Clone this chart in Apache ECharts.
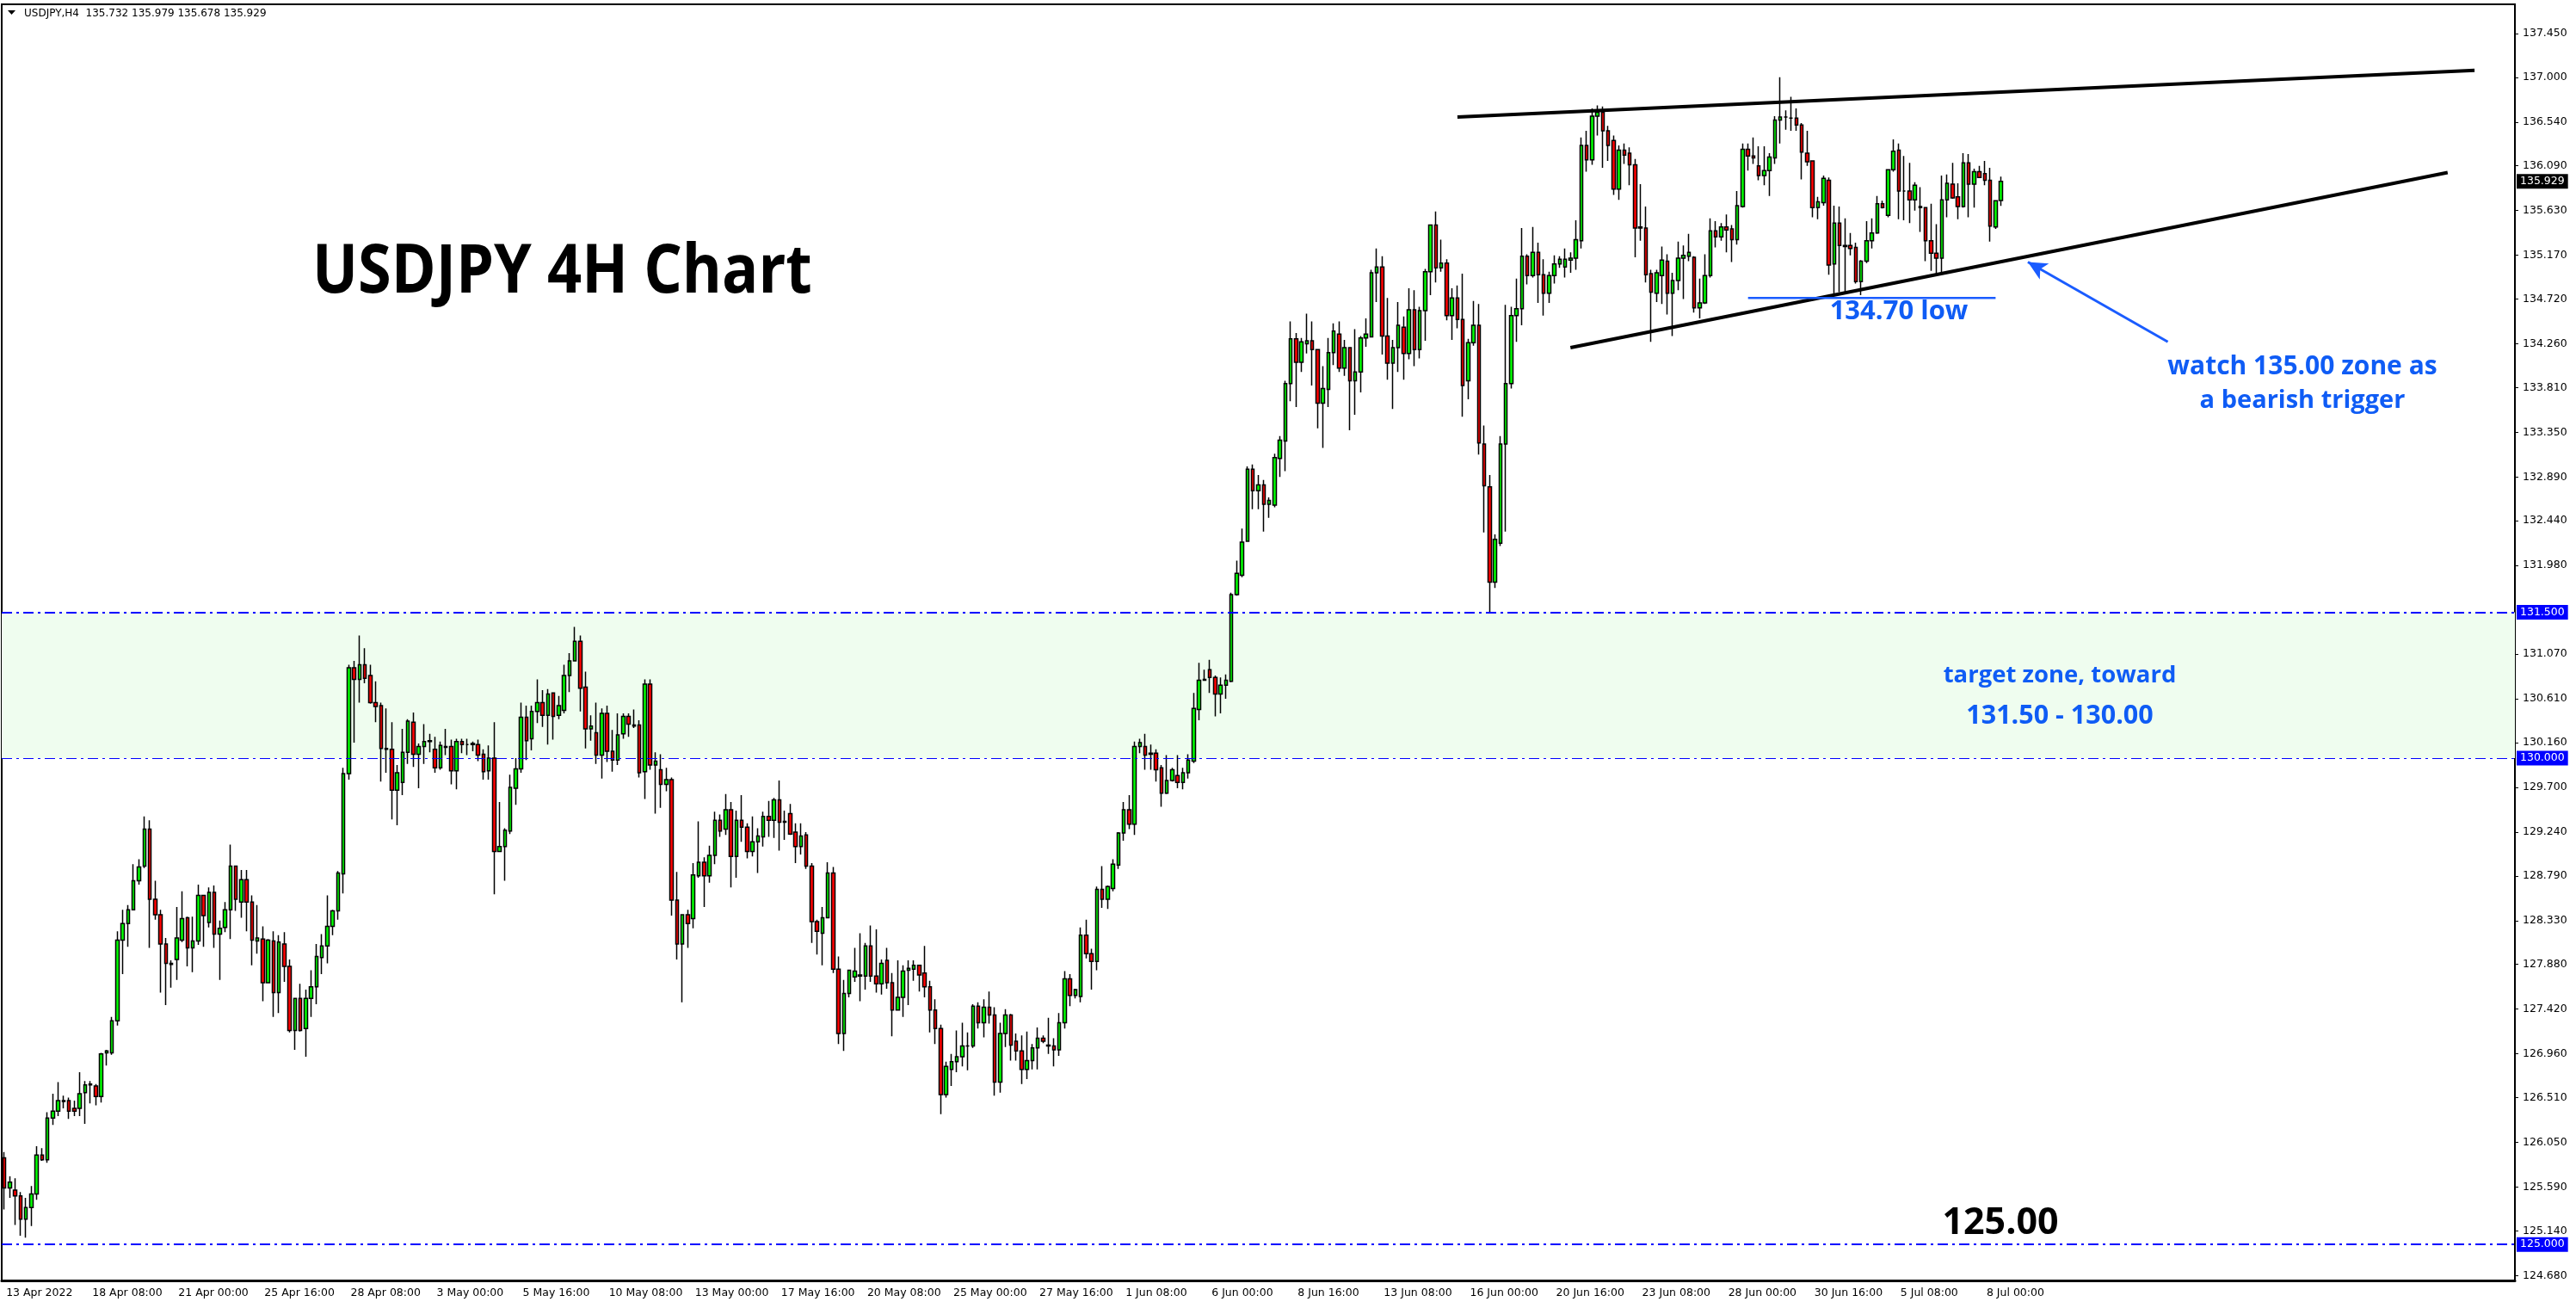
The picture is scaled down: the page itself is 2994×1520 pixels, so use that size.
<!DOCTYPE html>
<html><head><meta charset="utf-8">
<script src="https://cdn.jsdelivr.net/npm/echarts@6/dist/echarts.min.js"></script>
<style>html,body{margin:0;padding:0;background:#fff}#c{width:2994px;height:1520px}</style>
</head><body><div id="c"></div>
<script>
// ---------------- data ----------------
const symbolName = 'USDJPY,H4';
const lastBar = [135.732, 135.979, 135.678, 135.929]; // O H L C of the last bar
const firstBarUTC = [2022, 3, 13, 16];                 // 13 Apr 2022 16:00
const totalSlots = 467;                                 // bars + empty chart shift area
const labelEvery = 16;
const yMin = 124.63, yMax = 137.75;
const tickLabels = ['124.680','125.140','125.590','126.050','126.510','126.960','127.420','127.880','128.330','128.790','129.240','129.700','130.160','130.610','131.070','131.980','132.440','132.890','133.350','133.810','134.260','134.720','135.170','135.630','136.090','136.540','137.000','137.450'];
const levelLines = [131.5, 130.0, 125.0];
const targetZone = [130.0, 131.5];
const upperTrend = [[270, 136.59], [459, 137.07]];
const lowerTrend = [[291, 134.22], [454, 136.02]];
const lowLine = [[324, 134.73], [370, 134.73]];
const arrowFromTo = [[402, 134.28], [376, 135.10]];
// candles: [open, high, low, close]
const candles = [
[125.89,125.95,125.36,125.58],[125.58,125.70,125.48,125.64],[125.56,125.68,125.20,125.50],[125.50,125.54,125.09,125.26],
[125.26,125.48,125.07,125.38],[125.38,125.60,125.19,125.52],[125.52,126.01,125.46,125.92],[125.92,125.99,125.86,125.87],
[125.87,126.36,125.84,126.30],[126.30,126.55,126.23,126.37],[126.37,126.67,126.32,126.48],[126.48,126.53,126.40,126.47],
[126.48,126.51,126.29,126.37],[126.40,126.48,126.32,126.37],[126.40,126.77,126.32,126.55],[126.56,126.68,126.24,126.64],
[126.64,126.68,126.45,126.65],[126.63,126.65,126.43,126.52],[126.52,126.97,126.46,126.96],[126.97,127.00,126.84,126.99],
[126.97,127.34,126.95,127.30],[127.30,128.22,127.25,128.13],[128.13,128.44,127.78,128.30],[128.30,128.49,128.06,128.44],
[128.44,128.91,128.44,128.74],[128.74,128.96,128.70,128.88],[128.89,129.40,128.87,129.27],[129.27,129.36,128.05,128.55],
[128.55,128.74,128.34,128.39],[128.39,128.44,127.59,128.09],[128.09,128.15,127.46,127.89],[127.89,127.92,127.64,127.88],
[127.93,128.47,127.72,128.15],[128.13,128.63,128.11,128.35],[128.36,128.37,127.86,128.05],[128.05,128.37,127.80,128.12],
[128.12,128.70,128.08,128.59],[128.59,128.59,128.06,128.38],[128.31,128.67,128.26,128.62],[128.62,128.69,128.05,128.19],
[128.19,128.33,127.72,128.25],[128.26,128.52,128.21,128.44],[128.44,129.11,128.14,128.89],[128.89,128.89,128.43,128.55],
[128.52,128.85,128.36,128.75],[128.75,128.85,128.22,128.52],[128.52,128.59,127.87,128.13],[128.12,128.49,127.99,128.15],
[128.14,128.27,127.50,127.69],[127.69,128.14,127.69,128.13],[128.12,128.22,127.34,127.59],[127.59,128.18,127.38,128.11],
[128.09,128.21,127.70,127.86],[127.86,127.93,127.18,127.20],[127.20,127.53,127.00,127.53],[127.53,127.68,127.19,127.20],
[127.22,127.62,126.93,127.53],[127.53,127.82,127.34,127.65],[127.65,128.09,127.47,127.96],[127.95,128.19,127.78,128.07],
[128.07,128.59,127.89,128.27],[128.27,128.44,128.18,128.43],[128.43,128.84,128.34,128.82],[128.81,129.90,128.61,129.84],
[129.84,130.96,129.78,130.93],[130.93,131.00,130.16,130.81],[130.81,131.26,130.57,130.96],[130.96,131.13,130.77,130.82],
[130.85,130.96,130.56,130.57],[130.57,130.79,130.37,130.53],[130.54,130.57,129.76,130.10],[130.10,130.51,129.85,130.09],
[130.09,130.37,129.37,129.67],[129.67,129.93,129.31,129.85],[129.75,130.30,129.62,130.06],[130.06,130.40,129.94,130.38],
[130.37,130.47,129.91,130.04],[130.04,130.15,129.69,130.12],[130.12,130.35,129.94,130.17],[130.17,130.25,130.06,130.18],
[130.09,130.22,129.85,129.90],[129.90,130.17,129.88,130.13],[130.11,130.30,130.03,130.12],[130.12,130.19,129.73,129.87],
[129.87,130.20,129.68,130.17],[130.17,130.20,130.05,130.14],[130.14,130.20,130.03,130.14],[130.14,130.17,130.07,130.15],
[130.14,130.19,129.97,130.03],[130.04,130.09,129.78,129.86],[129.87,130.13,129.78,130.00],[130.00,130.37,128.60,129.04],
[129.04,129.55,129.04,129.09],[129.09,129.28,128.74,129.26],[129.25,129.83,129.22,129.70],[129.69,130.00,129.52,129.89],
[129.89,130.57,129.85,130.42],[130.42,130.54,129.98,130.18],[130.20,130.54,130.08,130.48],[130.48,130.81,130.36,130.57],
[130.57,130.70,130.32,130.44],[130.44,130.71,130.14,130.66],[130.67,130.67,130.19,130.43],[130.44,130.64,130.40,130.54],
[130.49,130.96,130.46,130.85],[130.85,131.08,130.68,131.00],[131.00,131.35,131.00,131.20],[131.20,131.26,130.48,130.72],
[130.73,130.89,130.10,130.30],[130.30,130.44,130.18,130.33],[130.26,130.57,129.94,130.03],[130.03,130.51,129.79,130.46],
[130.46,130.54,129.96,130.07],[130.07,130.29,129.86,129.98],[129.98,130.46,129.93,130.24],[130.25,130.46,130.20,130.43],
[130.43,130.46,130.22,130.35],[130.34,130.50,130.31,130.33],[130.34,130.39,129.80,129.85],[129.86,130.81,129.58,130.76],
[130.76,130.81,129.88,129.93],[129.93,130.06,129.43,129.97],[129.88,130.04,129.49,129.73],[129.73,129.90,129.66,129.78],
[129.78,129.80,128.38,128.54],[128.54,128.83,127.93,128.09],[128.09,128.39,127.49,128.39],[128.39,128.44,128.05,128.30],
[128.35,128.92,128.25,128.80],[128.79,129.35,128.77,128.93],[128.93,128.98,128.47,128.79],[128.79,129.10,128.72,129.00],
[129.00,129.45,128.91,129.36],[129.36,129.42,129.19,129.25],[129.27,129.63,129.21,129.47],[129.47,129.55,128.67,128.99],
[128.99,129.46,128.77,129.36],[129.36,129.62,129.14,129.29],[129.29,129.33,128.97,129.04],[129.04,129.40,128.99,129.14],
[129.14,129.28,128.82,129.20],[129.19,129.45,129.09,129.40],[129.40,129.56,129.19,129.36],[129.36,129.59,129.18,129.57],
[129.57,129.77,129.05,129.34],[129.34,129.46,129.16,129.35],[129.43,129.53,129.21,129.22],[129.24,129.33,128.92,129.09],
[129.09,129.33,129.01,129.20],[129.21,129.24,128.86,128.89],[128.89,128.92,128.10,128.32],[128.32,128.34,127.98,128.22],
[128.20,128.47,127.87,128.36],[128.36,128.93,128.36,128.82],[128.82,128.88,127.79,127.83],[127.83,127.96,127.06,127.17],
[127.17,127.72,126.99,127.58],[127.58,127.82,127.54,127.82],[127.75,128.05,127.70,127.81],[127.76,128.20,127.50,127.77],
[127.76,128.10,127.62,128.07],[128.07,128.28,127.70,127.76],[127.76,128.24,127.59,127.68],[127.68,127.93,127.57,127.89],
[127.92,128.05,127.63,127.69],[127.69,127.79,127.14,127.41],[127.41,127.92,127.41,127.54],[127.54,127.87,127.34,127.81],
[127.82,127.92,127.46,127.84],[127.83,127.92,127.71,127.87],[127.87,127.87,127.60,127.77],[127.79,128.07,127.54,127.65],
[127.65,127.71,127.18,127.41],[127.41,127.52,127.06,127.22],[127.22,127.26,126.34,126.54],[126.54,126.88,126.51,126.83],
[126.80,126.96,126.63,126.88],[126.88,127.20,126.77,126.93],[126.93,127.28,126.83,127.04],[127.04,127.18,126.79,127.04],
[127.04,127.47,127.02,127.45],[127.45,127.49,127.22,127.28],[127.28,127.52,127.13,127.44],[127.44,127.60,127.27,127.36],
[127.36,127.44,126.53,126.67],[126.67,127.28,126.56,127.17],[127.17,127.42,127.03,127.36],[127.36,127.37,126.89,127.05],
[127.09,127.17,126.89,126.99],[126.99,127.15,126.65,126.80],[126.80,127.19,126.70,126.89],[126.89,127.06,126.80,127.02],
[127.02,127.23,126.80,127.12],[127.12,127.15,127.07,127.09],[127.05,127.33,126.96,127.04],[127.04,127.12,126.83,127.00],
[127.00,127.38,126.94,127.28],[127.28,127.81,127.22,127.73],[127.73,127.78,127.45,127.56],[127.56,127.63,127.53,127.62],
[127.55,128.26,127.49,128.18],[128.18,128.34,127.94,127.99],[127.99,128.04,127.62,127.91],[127.91,128.68,127.82,128.65],
[128.65,128.89,128.46,128.55],[128.55,128.69,128.45,128.68],[128.66,128.96,128.63,128.91],[128.90,129.24,128.86,129.23],
[129.23,129.55,129.15,129.47],[129.47,129.62,129.27,129.32],[129.32,130.17,129.21,130.12],[130.12,130.20,130.05,130.16],
[130.12,130.25,129.88,130.03],[130.04,130.14,129.88,130.05],[130.05,130.09,129.76,129.88],[129.90,129.93,129.50,129.64],
[129.64,130.03,129.63,129.77],[129.77,129.90,129.76,129.88],[129.82,130.03,129.69,129.75],[129.75,129.90,129.68,129.85],
[129.85,130.04,129.79,129.98],[129.97,130.67,129.95,130.51],[130.50,130.98,130.39,130.80],[130.80,130.91,130.80,130.81],
[130.91,131.01,130.67,130.83],[130.83,130.85,130.43,130.66],[130.66,130.83,130.46,130.75],[130.75,130.86,130.61,130.80],
[130.79,131.70,130.78,131.68],[131.68,132.03,131.67,131.90],[131.88,132.36,131.86,132.22],[132.23,133.00,132.23,132.97],
[132.97,133.02,132.56,132.75],[132.75,132.91,132.56,132.81],[132.81,132.86,132.33,132.61],[132.61,132.68,132.47,132.65],
[132.60,133.13,132.58,133.09],[133.08,133.31,132.89,133.27],[133.26,133.88,132.95,133.85],[133.85,134.49,133.67,134.31],
[134.31,134.37,133.61,134.07],[134.07,134.32,133.97,134.28],[134.26,134.57,134.16,134.29],[134.29,134.49,133.83,134.20],
[134.20,134.20,133.39,133.65],[133.65,134.03,133.19,133.80],[133.79,134.32,133.61,134.17],[134.17,134.47,134.04,134.39],
[134.36,134.49,133.97,134.01],[134.01,134.30,133.93,134.22],[134.22,134.22,133.37,133.88],[133.88,134.41,133.53,133.97],
[133.97,134.34,133.76,134.32],[134.32,134.52,134.23,134.36],[134.33,135.02,134.33,134.99],[134.99,135.24,134.69,135.05],
[135.05,135.16,134.15,134.34],[134.34,134.73,133.89,134.06],[134.06,134.30,133.59,134.22],[134.22,134.69,133.97,134.45],
[134.43,134.54,133.89,134.16],[134.16,134.83,134.10,134.61],[134.61,134.81,134.03,134.20],[134.20,134.64,134.11,134.60],
[134.60,135.03,134.29,135.00],[135.00,135.48,134.76,135.48],[135.48,135.62,134.89,135.04],[135.04,135.33,135.00,135.09],
[135.09,135.13,134.50,134.55],[134.55,134.83,134.30,134.73],[134.73,134.86,134.42,134.51],[134.51,134.98,133.51,133.83],
[133.88,134.31,133.69,134.27],[134.27,134.70,134.24,134.45],[134.45,134.67,133.12,133.24],[133.23,133.42,132.32,132.80],
[132.79,132.91,131.50,131.81],[131.81,132.30,131.75,132.25],[132.21,133.31,132.18,133.23],[133.23,134.66,132.33,133.85],
[133.85,134.64,133.80,134.55],[134.55,134.93,134.28,134.62],[134.62,135.45,134.45,135.16],[135.16,135.18,134.87,134.96],
[134.96,135.46,134.94,135.20],[135.20,135.30,134.68,134.97],[134.97,135.13,134.55,134.78],[134.78,135.00,134.68,134.96],
[134.96,135.17,134.88,135.08],[135.08,135.16,135.04,135.13],[135.05,135.24,134.94,135.13],[135.12,135.20,134.99,135.14],
[135.14,135.53,135.02,135.33],[135.32,136.38,135.24,136.30],[136.30,136.45,136.03,136.15],[136.15,136.68,136.10,136.60],
[136.60,136.71,136.40,136.64],[136.64,136.70,136.07,136.45],[136.45,136.50,136.14,136.30],[136.35,136.40,135.79,135.85],
[135.85,136.30,135.74,136.25],[136.25,136.32,136.11,136.20],[136.22,136.28,135.89,136.10],[136.10,136.16,135.15,135.45],
[135.45,135.90,135.32,135.46],[135.45,135.67,134.89,134.97],[134.98,135.02,134.28,134.79],[134.78,135.02,134.69,134.99],
[134.96,135.26,134.67,135.12],[135.11,135.18,134.56,134.78],[134.78,134.99,134.34,134.91],[134.91,135.31,134.81,135.14],
[135.14,135.27,134.72,135.17],[135.16,135.39,135.11,135.20],[135.15,135.16,134.58,134.63],[134.63,134.93,134.52,134.68],
[134.68,135.18,134.67,134.96],[134.96,135.55,134.94,135.42],[135.42,135.52,135.25,135.36],[135.36,135.50,135.32,135.46],
[135.46,135.59,135.20,135.43],[135.44,135.48,135.10,135.33],[135.33,135.83,135.28,135.68],[135.67,136.32,135.66,136.26],
[136.26,136.32,136.04,136.19],[136.19,136.38,136.11,136.17],[136.09,136.29,135.94,135.99],[135.99,136.29,135.89,136.04],
[136.04,136.22,135.78,136.18],[136.17,136.60,136.11,136.56],[136.56,137.00,136.32,136.59],[136.59,136.66,136.46,136.59],
[136.58,136.80,136.45,136.58],[136.58,136.68,136.45,136.51],[136.51,136.53,135.95,136.23],[136.22,136.45,136.09,136.13],
[136.14,136.14,135.56,135.66],[135.66,135.77,135.54,135.72],[135.71,135.99,135.68,135.96],[135.94,135.97,134.97,135.07],
[135.08,135.68,134.76,135.50],[135.50,135.67,134.79,135.27],[135.27,135.55,134.79,135.26],[135.27,135.40,135.17,135.24],
[135.25,135.30,134.88,134.90],[134.90,135.12,134.76,135.11],[135.11,135.52,135.09,135.32],[135.32,135.55,135.24,135.40],
[135.40,135.78,135.39,135.70],[135.70,135.73,135.65,135.66],[135.58,136.05,135.56,136.05],[136.05,136.36,136.03,136.24],
[136.25,136.32,135.54,135.83],[135.83,136.19,135.53,135.83],[135.83,136.12,135.50,135.74],[135.74,135.92,135.63,135.89],
[135.67,135.87,135.41,135.66],[135.66,135.66,135.11,135.32],[135.32,135.70,135.01,135.19],[135.19,135.49,134.97,135.14],
[135.14,135.99,134.99,135.74],[135.74,136.00,135.56,135.91],[135.90,136.12,135.75,135.76],[135.77,135.91,135.54,135.67],
[135.67,136.22,135.66,136.12],[136.12,136.21,135.56,135.90],[135.90,136.06,135.66,136.03],[136.03,136.09,135.97,135.97],
[136.01,136.14,135.89,135.94],[135.94,136.07,135.31,135.47],[135.46,135.73,135.44,135.73],
lastBar
];
// ---------------- build ----------------
const MONTHS = ['Jan','Feb','Mar','Apr','May','Jun','Jul','Aug','Sep','Oct','Nov','Dec'];
const categories = [];
{
  let t = Date.UTC(firstBarUTC[0], firstBarUTC[1], firstBarUTC[2], firstBarUTC[3]);
  while (categories.length < totalSlots) {
    const d = new Date(t);
    const wd = d.getUTCDay();
    if (wd !== 0 && wd !== 6) {
      const base = d.getUTCDate() + ' ' + MONTHS[d.getUTCMonth()];
      categories.push(categories.length === 0 ? base + ' ' + d.getUTCFullYear()
        : base + ' ' + String(d.getUTCHours()).padStart(2, '0') + ':00');
    }
    t += 4 * 3600 * 1000;
  }
}
const lastIdx = candles.length - 1;
const showIdx = (i) => i % labelEvery === 0 && i <= lastIdx;
const tickValues = tickLabels.map(Number);
const AX_FONT = 'DejaVu Sans';
const BLUE_TXT = '#0f5cf5';

const chart = echarts.init(document.getElementById('c'), null, {renderer: 'canvas'});
chart.setOption({
  animation: false,
  backgroundColor: '#fff',
  grid: {left: 2, right: 71, top: 5, bottom: 32, show: true, borderColor: '#000', borderWidth: 2, backgroundColor: 'transparent'},
  xAxis: {
    type: 'category', data: categories, boundaryGap: true,
    axisLine: {lineStyle: {color: '#000', width: 3}},
    axisTick: {alignWithLabel: true, interval: (i) => showIdx(i), length: 5, lineStyle: {color: '#000', width: 1}},
    axisLabel: {interval: (i) => showIdx(i), align: 'left', margin: 8, padding: [0, 0, 0, 2],
      color: '#000', fontFamily: AX_FONT, fontSize: 12.5},
    splitLine: {show: false}
  },
  yAxis: {
    type: 'value', position: 'right', min: yMin, max: yMax, scale: true,
    axisLine: {show: true, lineStyle: {color: '#000', width: 2}},
    axisTick: {show: true, customValues: tickValues, length: 4, lineStyle: {color: '#000'}},
    axisLabel: {customValues: tickValues, formatter: (v) => Number(v).toFixed(3), margin: 9,
      color: '#000', fontFamily: AX_FONT, fontSize: 12.5},
    splitLine: {show: false}
  },
  series: [
    {
      type: 'line', data: [], z: 1, silent: true,
      markArea: {silent: true, itemStyle: {color: '#effdef'}, data: [[{yAxis: targetZone[0]}, {yAxis: targetZone[1]}]]},
      markLine: {
        silent: true, symbol: ['none', 'none'],
        lineStyle: {color: '#0000ff', type: [12, 5, 3, 5], width: 2},
        label: {position: 'end', distance: 2, backgroundColor: '#0000ff', color: '#fff', padding: [2, 4, 2, 4],
          fontFamily: AX_FONT, fontSize: 12.5},
        data: levelLines.map((v) => ({yAxis: v, lineStyle: {width: v === 130 ? 1 : 2},
            label: {formatter: () => v.toFixed(3)}})).concat([
          {yAxis: lastBar[3], lineStyle: {color: 'rgba(0,0,0,0)'},
            label: {backgroundColor: '#000', formatter: () => lastBar[3].toFixed(3)}}
        ])
      }
    },
    {
      type: 'candlestick', name: symbolName, z: 3, barWidth: 4,
      data: candles.map(([o, h, l, c]) => [o, c, l, h]),
      itemStyle: {color: '#00ff00', color0: '#ff0000', borderColor: '#000', borderColor0: '#000', borderWidth: 1.5}
    },
    {type: 'line', data: upperTrend, z: 5, symbol: 'none', silent: true, lineStyle: {color: '#000', width: 4}},
    {type: 'line', data: lowerTrend, z: 5, symbol: 'none', silent: true, lineStyle: {color: '#000', width: 4}},
    {type: 'line', data: lowLine, z: 5, symbol: 'none', silent: true, lineStyle: {color: '#1a5cff', width: 2.5}},
    {
      type: 'line', data: [], z: 5, silent: true,
      markLine: {silent: true, symbol: ['none', 'arrow'], symbolSize: [16, 22],
        lineStyle: {color: '#1a5cff', width: 3, type: 'solid'}, label: {show: false},
        data: [[{coord: arrowFromTo[0]}, {coord: arrowFromTo[1]}]]}
    }
  ],
  graphic: [
    {type: 'polygon', z: 100, shape: {points: [[9, 12], [18, 12], [13.5, 17]]}, style: {fill: '#000'}},
    {type: 'text', z: 100, x: 28, y: 16, style: {text: symbolName + '  ' + lastBar.map((v) => v.toFixed(3)).join(' '),
      font: '12px "DejaVu Sans"', fill: '#000', verticalAlign: 'middle'}},
    {type: 'text', z: 100, x: 363, y: 318, scaleX: 0.9, style: {text: 'USDJPY 4H Chart', font: 'bold 78px "Open Sans"', fill: '#000', verticalAlign: 'middle'}},
    {type: 'text', z: 100, x: 2207, y: 362, style: {text: '134.70 low', font: 'bold 31px "Open Sans"', fill: BLUE_TXT, align: 'center', verticalAlign: 'middle'}},
    {type: 'text', z: 100, x: 2676, y: 426, style: {text: 'watch 135.00 zone as', font: 'bold 30px "Open Sans"', fill: BLUE_TXT, align: 'center', verticalAlign: 'middle'}},
    {type: 'text', z: 100, x: 2676, y: 466, style: {text: 'a bearish trigger', font: 'bold 29px "Open Sans"', fill: BLUE_TXT, align: 'center', verticalAlign: 'middle'}},
    {type: 'text', z: 100, x: 2394, y: 785, style: {text: 'target zone, toward', font: 'bold 27.5px "Open Sans"', fill: BLUE_TXT, align: 'center', verticalAlign: 'middle'}},
    {type: 'text', z: 100, x: 2394, y: 832, style: {text: '131.50 - 130.00', font: 'bold 30.5px "Open Sans"', fill: BLUE_TXT, align: 'center', verticalAlign: 'middle'}},
    {type: 'text', z: 100, x: 2325, y: 1422, style: {text: '125.00', font: 'bold 43px "Open Sans"', fill: '#000', align: 'center', verticalAlign: 'middle'}}
  ]
});
</script></body></html>
